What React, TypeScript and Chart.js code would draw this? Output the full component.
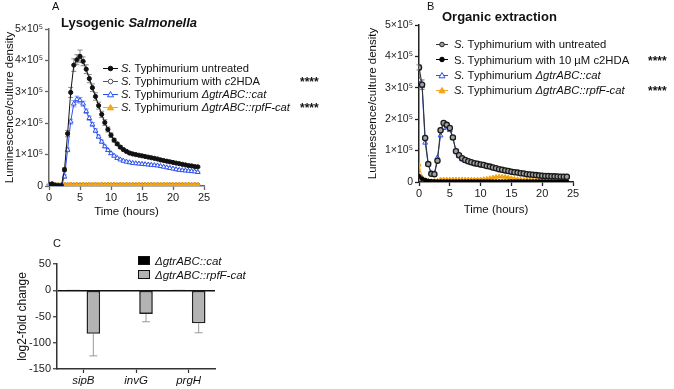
import React, { useEffect, useRef } from 'react';
import { Chart, registerables } from 'chart.js';

Chart.register(...registerables);

const FONT = "'Liberation Sans', Arial, Helvetica, sans-serif";

// Sampling times (hours)
const hours = [
  0, 0.5, 1, 1.5, 2, 2.5, 3, 3.5, 4, 4.5, 5, 5.5, 6, 6.5, 7, 7.5, 8, 8.5, 9, 9.5,
  10, 10.5, 11, 11.5, 12, 12.5, 13, 13.5, 14, 14.5, 15, 15.5, 16, 16.5, 17, 17.5,
  18, 18.5, 19, 19.5, 20, 20.5, 21, 21.5, 22, 22.5, 23, 23.5, 24,
];

// Panel A – lysogenic Salmonella (luminescence / culture density)
const lysoUntreated = [
  5000, 6000, 2000, 1000, 1000, 52000, 167000, 298000, 385000, 402000, 413000, 397000,
  372000, 342000, 313000, 285000, 256000, 228000, 202000, 180000, 162000, 146000, 134000,
  124000, 116000, 110000, 105000, 102000, 100000, 98000, 96000, 94000, 92000, 90000, 88000,
  86000, 83000, 81000, 79000, 77000, 75000, 73000, 71000, 69000, 67000, 65000, 64000,
  62000, 61000,
];
const lysoUntreatedSd = [
  1000, 1000, 500, 500, 500, 6000, 10000, 16000, 20000, 16000, 20000, 14000, 14000, 13000,
  12000, 12000, 11000, 10000, 9000, 8000, 7000, 6000, 5000, 5000, 4000, 4000, 4000, 3000,
  3000, 3000, 3000, 3000, 3000, 3000, 3000, 3000, 3000, 3000, 3000, 3000, 2000, 2000, 2000,
  2000, 2000, 2000, 2000, 2000, 2000,
];
const lysoC2hda = [
  6000, 7000, 4000, 3000, 3000, 3500, 3000, 3500, 3000, 3500, 3000, 3500, 3000, 3500, 3000,
  3500, 3000, 3500, 3000, 3500, 3000, 3500, 3000, 3500, 3000, 3500, 3000, 3500, 3000, 3500,
  3000, 3500, 3000, 3500, 3000, 3500, 3000, 3500, 3000, 3500, 3000, 3500, 3000, 3500, 3000,
  3500, 3000, 3500, 3000,
];
const lysoCat = [
  3000, 4000, 1000, 500, 500, 30000, 115000, 205000, 262000, 276000, 273000, 262000,
  238000, 216000, 196000, 176000, 157000, 141000, 126000, 114000, 104000, 96000, 89000,
  84000, 80000, 77000, 75000, 73000, 72000, 71000, 70000, 69000, 68000, 67000, 66000, 65000,
  63000, 61000, 59000, 57000, 55000, 53000, 51000, 50000, 49000, 48000, 47000, 46000, 44000,
];
const lysoCatSd = [
  500, 500, 300, 300, 300, 5000, 6000, 8000, 10000, 10000, 9000, 8000, 7000, 7000, 6000,
  6000, 5000, 5000, 4000, 4000, 3500, 3500, 3000, 3000, 3000, 2500, 2500, 2500, 2500, 2500,
  2500, 2500, 2500, 2500, 2500, 2500, 2500, 2500, 2500, 2500, 2500, 2500, 2500, 2500, 2500,
  2500, 2500, 2500, 2500,
];
const lysoRpfF = [
  2000, 2500, 2000, 3000, 3000, 4000, 4000, 4500, 4000, 4500, 4000, 4500, 4000, 4500, 4000,
  4500, 4000, 4500, 4000, 4500, 4000, 4500, 4000, 4500, 4000, 4500, 4000, 4500, 4000, 4500,
  4000, 4500, 4000, 4500, 4000, 4500, 4000, 4500, 4000, 4500, 4000, 4500, 4000, 4500, 4000,
  4500, 4000, 4500, 4000,
];

// Panel B – organic extraction
const orgUntreated = [
  365000, 310000, 140000, 57000, 26000, 25000, 68000, 165000, 188000, 182000, 172000,
  142000, 98000, 85000, 76000, 70000, 66000, 63000, 60000, 58000, 56000, 54000, 51000,
  49000, 46000, 44000, 41000, 39000, 37000, 35000, 33000, 31000, 30000, 28000, 27000, 25000,
  24000, 23000, 22000, 21000, 20000, 19500, 19000, 18500, 18000, 17500, 17000, 17000, 16500,
];
const orgUntreatedSd = [
  8000, 15000, 6000, 4000, 3000, 3000, 4000, 6000, 5000, 5000, 4000, 4000, 3000, 3000, 2000,
  2000, 2000, 2000, 2000, 2000, 2000, 2000, 2000, 2000, 2000, 2000, 2000, 2000, 2000, 2000,
  2000, 2000, 2000, 2000, 2000, 2000, 2000, 2000, 2000, 2000, 2000, 2000, 2000, 2000, 2000,
  2000, 2000, 2000, 2000,
];
const orgC2hda = [
  18000, 10000, 6000, 3000, 2000, 1500, 1000, 1000, 1000, 1000, 1000, 1000, 1000, 1000, 1000,
  1000, 1000, 1000, 1000, 1000, 1000, 1000, 1000, 1000, 1000, 1000, 1000, 1000, 1000, 1000,
  1000, 1000, 1000, 1000, 1000, 1000, 1000, 1000, 1000, 1000, 1000, 1000, 1000, 1000, 1000,
  1000, 1000, 1000, 1000,
];
const orgCat = [
  325000, 305000, 125000, 55000, 27000, 27000, 78000, 148000, 172000, 176000, 165000, 140000,
  100000, 82000, 72000, 67000, 63000, 60000, 57000, 55000, 53000, 51000, 49000, 47000, 44000,
  42000, 40000, 38000, 36000, 34000, 32000, 30000, 29000, 27000, 26000, 25000, 24000, 23000,
  22000, 21000, 20000, 19500, 19000, 18500, 18000, 17500, 17000, 17000, 17000,
];
const orgRpfF = [
  55000, 15000, 5000, 3000, 2000, 3000, 4000, 8000, 8000, 8000, 8000, 8000, 8000, 8000, 8000,
  8000, 8000, 8000, 8000, 8000, 8000, 9000, 10000, 12000, 14000, 16000, 17000, 17000, 16000,
  14000, 12000, 10000, 9000, 8000, 7000, 7000, 7000, 7000, 7000, 7000, 7000, 7000, 7000,
  7000, 7000, 7000, 7000, 7000, 7000,
];

const timeTicks = [0, 5, 10, 15, 20, 25];
const lumTicks = [0, 100000, 200000, 300000, 400000, 500000];

// Panel C – gene expression (log2-fold change)
const genes = ['sipB', 'invG', 'prgH'];
const foldCat = [1, -1, 1];
const foldRpfF = [-83, -45, -63];
const foldRpfFSd = [42, 15, 18];
const foldTicks = [-150, -100, -50, 0, 50];

const lumLabel = (v: number) => (v === 0 ? '0' : `${v / 100000}×10⁵`);

type Mark = { shape: 'circle' | 'triangle'; fill: string; stroke: string; line: string };

const mkUntreatedA: Mark = { shape: 'circle', fill: '#111', stroke: '#111', line: '#111' };
const mkOpenA: Mark = { shape: 'circle', fill: '#fff', stroke: '#555', line: '#555' };
const mkCat: Mark = { shape: 'triangle', fill: '#fff', stroke: '#2b50f0', line: '#2b50f0' };
const mkRpfF: Mark = { shape: 'triangle', fill: '#f5a623', stroke: '#f5a000', line: '#f5a623' };
const mkOpenB: Mark = { shape: 'circle', fill: '#a0a0a0', stroke: '#1a1a1a', line: '#333' };
const mkC2hdaB: Mark = { shape: 'circle', fill: '#000', stroke: '#000', line: '#000' };

// Draws SD whiskers for any dataset carrying an `errors` array
const errorBarPlugin = {
  id: 'errorBars',
  beforeDatasetsDraw(chart: any) {
    const ctx = chart.ctx;
    chart.data.datasets.forEach((ds: any, di: number) => {
      if (!ds.errors) return;
      const meta = chart.getDatasetMeta(di);
      const yScale = chart.scales[meta.yAxisID];
      ctx.save();
      ctx.strokeStyle = ds.errorColor || '#888';
      ctx.lineWidth = ds.errorWidth || 1;
      const cap = ds.errorCap ?? 2.5;
      meta.data.forEach((el: any, i: number) => {
        const e = ds.errors[i];
        if (!e) return;
        const raw = ds.data[i];
        const v = typeof raw === 'number' ? raw : raw.y;
        const ends = ds.errorOneSided ? [v < 0 ? v - e : v + e] : [v - e, v + e];
        const y0 = yScale.getPixelForValue(v);
        ctx.beginPath();
        ends.forEach((end: number) => {
          const y1 = yScale.getPixelForValue(end);
          ctx.moveTo(el.x, y0);
          ctx.lineTo(el.x, y1);
          ctx.moveTo(el.x - cap, y1);
          ctx.lineTo(el.x + cap, y1);
        });
        ctx.stroke();
      });
      ctx.restore();
    });
  },
};

function lineSeries(label: string, values: number[], mark: Mark, radius: number, order: number, extra: any = {}) {
  return {
    label,
    data: hours.map((h, i) => ({ x: h, y: values[i] })),
    borderColor: mark.line,
    backgroundColor: mark.fill,
    pointBorderColor: mark.stroke,
    pointBackgroundColor: mark.fill,
    pointStyle: mark.shape,
    pointRadius: radius,
    pointBorderWidth: 1,
    borderWidth: 1,
    fill: false,
    tension: 0,
    order,
    ...extra,
  };
}

function timeCourseOptions(cfg: {
  padLeft: number; padTop: number; padRight: number; yWidth: number; xHeight: number;
  yTitlePad: number; xTitlePad: number; axisColor: string;
}) {
  const tickFont = { family: FONT, size: 10.5 };
  const titleFont = { family: FONT, size: 11.5 };
  return {
    animation: false,
    responsive: false,
    events: [],
    layout: { padding: { left: cfg.padLeft, top: cfg.padTop, right: cfg.padRight, bottom: 0 } },
    plugins: { legend: { display: false }, tooltip: { enabled: false } },
    scales: {
      x: {
        type: 'linear',
        min: 0,
        max: 25,
        afterBuildTicks: (s: any) => { s.ticks = timeTicks.map((v) => ({ value: v })); },
        afterFit: (s: any) => { s.height = cfg.xHeight; },
        ticks: { font: { family: FONT, size: 11 }, color: '#222', padding: 1, maxRotation: 0 },
        grid: { display: true, drawOnChartArea: false, tickLength: 4, tickWidth: 1.3, tickColor: cfg.axisColor },
        border: { display: true, color: cfg.axisColor, width: 1.5 },
        title: { display: true, text: 'Time (hours)', font: titleFont, color: '#111', padding: { top: 0, bottom: cfg.xTitlePad } },
      },
      y: {
        type: 'linear',
        min: 0,
        max: 500000,
        afterBuildTicks: (s: any) => { s.ticks = lumTicks.map((v) => ({ value: v })); },
        afterFit: (s: any) => { s.width = cfg.yWidth; },
        ticks: { font: tickFont, color: '#222', padding: 2, callback: (v: any) => lumLabel(Number(v)) },
        grid: { display: true, drawOnChartArea: false, tickLength: 4, tickWidth: 1.3, tickColor: cfg.axisColor },
        border: { display: true, color: cfg.axisColor, width: 1.5 },
        title: { display: true, text: 'Luminescence/culture density', font: titleFont, color: '#111', padding: { top: cfg.yTitlePad, bottom: 0 } },
      },
    },
  };
}

function configA(): any {
  return {
    type: 'line',
    data: {
      datasets: [
        lineSeries('S. Typhimurium untreated', lysoUntreated, mkUntreatedA, 2.1, 1, { errors: lysoUntreatedSd, errorColor: '#8a8a8a' }),
        lineSeries('S. Typhimurium with c2HDA', lysoC2hda, mkOpenA, 2.1, 4),
        lineSeries('S. Typhimurium ΔgtrABC::cat', lysoCat, mkCat, 2.7, 2, { errors: lysoCatSd, errorColor: '#8aa0f5' }),
        lineSeries('S. Typhimurium ΔgtrABC::rpfF-cat', lysoRpfF, mkRpfF, 2.5, 3),
      ],
    },
    options: timeCourseOptions({ padLeft: 0, padTop: 29, padRight: 136, yWidth: 49, xHeight: 39, yTitlePad: 3, xTitlePad: 6, axisColor: '#666' }),
    plugins: [errorBarPlugin],
  };
}

function configB(): any {
  return {
    type: 'line',
    data: {
      datasets: [
        lineSeries('S. Typhimurium with untreated', orgUntreated, mkOpenB, 2.6, 1, { errors: orgUntreatedSd, errorColor: '#777', borderWidth: 1.1, pointBorderWidth: 1.3 }),
        lineSeries('S. Typhimurium with 10 µM c2HDA', orgC2hda, mkC2hdaB, 2, 3),
        lineSeries('S. Typhimurium ΔgtrABC::cat', orgCat, mkCat, 2.8, 2),
        lineSeries('S. Typhimurium ΔgtrABC::rpfF-cat', orgRpfF, mkRpfF, 2.5, 4),
      ],
    },
    options: timeCourseOptions({ padLeft: 26, padTop: 25, padRight: 101, yWidth: 53, xHeight: 43, yTitlePad: 0, xTitlePad: 8, axisColor: '#222' }),
    plugins: [errorBarPlugin],
  };
}

function configC(): any {
  return {
    type: 'bar',
    data: {
      labels: genes,
      datasets: [
        {
          label: 'ΔgtrABC::cat',
          data: foldCat,
          backgroundColor: '#000',
          borderColor: '#000',
          borderWidth: 1.5,
          borderSkipped: false,
          categoryPercentage: 0.76,
          barPercentage: 0.68,
        },
        {
          label: 'ΔgtrABC::rpfF-cat',
          data: foldRpfF,
          backgroundColor: '#b3b3b3',
          borderColor: '#222',
          borderWidth: 1.6,
          borderSkipped: false,
          categoryPercentage: 0.76,
          barPercentage: 0.68,
          errors: foldRpfFSd,
          errorOneSided: true,
          errorColor: '#9a9a9a',
          errorCap: 4,
        },
      ],
    },
    options: {
      animation: false,
      responsive: false,
      events: [],
      layout: { padding: { left: 0, top: 29, right: 125, bottom: 0 } },
      plugins: { legend: { display: false }, tooltip: { enabled: false } },
      scales: {
        x: {
          afterFit: (s: any) => { s.height = 20; },
          ticks: { font: { family: FONT, size: 11.5, style: 'italic' }, color: '#111', padding: 1 },
          grid: { display: true, drawOnChartArea: false, offset: false, tickLength: 4, tickWidth: 1.2, tickColor: '#333' },
          border: { display: true, color: '#333', width: 1.5 },
        },
        y: {
          min: -150,
          max: 50,
          afterBuildTicks: (s: any) => { s.ticks = foldTicks.map((v) => ({ value: v })); },
          afterFit: (s: any) => { s.width = 57; },
          ticks: { font: { family: FONT, size: 11 }, color: '#222', padding: 2 },
          grid: {
            display: true,
            drawOnChartArea: true,
            tickLength: 4,
            tickWidth: 1.2,
            lineWidth: 1.5,
            tickColor: '#333',
            color: (ctx: any) => (ctx.tick && ctx.tick.value === 0 ? '#111' : 'rgba(0,0,0,0)'),
          },
          border: { display: true, color: '#333', width: 1.5 },
          title: { display: true, text: 'log2-fold change', font: { family: FONT, size: 12 }, color: '#111', padding: { top: 15, bottom: 0 } },
        },
      },
    },
    plugins: [errorBarPlugin],
  };
}

type Seg = { t: string; i?: boolean };

const legendA: { mark: Mark; segs: Seg[]; stars: boolean }[] = [
  { mark: mkUntreatedA, segs: [{ t: 'S.', i: true }, { t: ' Typhimurium untreated' }], stars: false },
  { mark: mkOpenA, segs: [{ t: 'S.', i: true }, { t: ' Typhimurium with ' }, { t: 'c', i: true }, { t: '2HDA' }], stars: true },
  { mark: mkCat, segs: [{ t: 'S.', i: true }, { t: ' Typhimurium ' }, { t: 'ΔgtrABC::cat', i: true }], stars: false },
  { mark: mkRpfF, segs: [{ t: 'S.', i: true }, { t: ' Typhimurium ' }, { t: 'ΔgtrABC::rpfF-cat', i: true }], stars: true },
];
const legendARows = [68, 81, 94, 107];

const legendB: { mark: Mark; segs: Seg[]; stars: boolean }[] = [
  { mark: mkOpenB, segs: [{ t: 'S.', i: true }, { t: ' Typhimurium with untreated' }], stars: false },
  { mark: mkC2hdaB, segs: [{ t: 'S. Typhimurium with 10 µM c2HDA' }], stars: true },
  { mark: mkCat, segs: [{ t: 'S.', i: true }, { t: ' Typhimurium ' }, { t: 'ΔgtrABC::cat', i: true }], stars: false },
  { mark: mkRpfF, segs: [{ t: 'S.', i: true }, { t: ' Typhimurium ' }, { t: 'ΔgtrABC::rpfF-cat', i: true }], stars: true },
];
const legendBRows = [44, 59.5, 75, 90];

const legendC = [
  { label: 'ΔgtrABC::cat', fill: '#000' },
  { label: 'ΔgtrABC::rpfF-cat', fill: '#b3b3b3' },
];
const legendCRows = [260.5, 274.5];

function Marker({ mark, w }: { mark: Mark; w: number }) {
  const c = w / 2;
  return (
    <svg width={w} height={9} style={{ display: 'block' }}>
      <line x1={0} y1={4.5} x2={w} y2={4.5} stroke={mark.line} strokeWidth={1} />
      {mark.shape === 'circle' ? (
        <circle cx={c} cy={4.5} r={2.3} fill={mark.fill} stroke={mark.stroke} strokeWidth={1} />
      ) : (
        <polygon points={`${c},1.5 ${c + 3},6.8 ${c - 3},6.8`} fill={mark.fill} stroke={mark.stroke} strokeWidth={1} />
      )}
    </svg>
  );
}

function Text({ segs }: { segs: Seg[] }) {
  return (
    <>
      {segs.map((s, k) => (
        <span key={k} style={{ fontStyle: s.i ? 'italic' : 'normal' }}>{s.t}</span>
      ))}
    </>
  );
}

function abs(left: number, top: number, extra: React.CSSProperties = {}): React.CSSProperties {
  return { position: 'absolute', left, top, whiteSpace: 'nowrap', ...extra };
}

export default function App() {
  const aRef = useRef<HTMLCanvasElement>(null);
  const bRef = useRef<HTMLCanvasElement>(null);
  const cRef = useRef<HTMLCanvasElement>(null);

  useEffect(() => {
    const charts = [
      new Chart(aRef.current as HTMLCanvasElement, configA()),
      new Chart(bRef.current as HTMLCanvasElement, configB()),
      new Chart(cRef.current as HTMLCanvasElement, configC()),
    ];
    return () => charts.forEach((c) => c.destroy());
  }, []);

  const legendFont = 11.2;
  const lh = 14;

  return (
    <div style={{ position: 'absolute', left: 0, top: 0, width: 674, height: 389, background: '#fff', fontFamily: FONT, color: '#111', overflow: 'hidden' }}>
      <canvas ref={aRef} width={340} height={225} style={{ position: 'absolute', left: 0, top: 0 }} />
      <canvas ref={bRef} width={334} height={225} style={{ position: 'absolute', left: 340, top: 0 }} />
      <canvas ref={cRef} width={340} height={154} style={{ position: 'absolute', left: 0, top: 235 }} />

      {/* panel letters */}
      <div style={abs(52, -1, { fontSize: 11, lineHeight: '14px' })}>A</div>
      <div style={abs(427, -1, { fontSize: 11, lineHeight: '14px' })}>B</div>
      <div style={abs(53, 236, { fontSize: 11, lineHeight: '14px' })}>C</div>

      {/* panel titles */}
      <div style={abs(61, 14, { fontSize: 13, fontWeight: 'bold', lineHeight: '17px' })}>
        Lysogenic <span style={{ fontStyle: 'italic' }}>Salmonella</span>
      </div>
      <div style={abs(442, 8, { fontSize: 13, fontWeight: 'bold', lineHeight: '17px' })}>Organic extraction</div>

      {/* legend A */}
      {legendA.map((row, k) => (
        <React.Fragment key={`a${k}`}>
          <div style={abs(103, legendARows[k] - 4.5)}><Marker mark={row.mark} w={15} /></div>
          <div style={abs(121, legendARows[k] - lh / 2, { fontSize: legendFont, lineHeight: `${lh}px` })}><Text segs={row.segs} /></div>
          {row.stars && <div style={abs(300, legendARows[k] - lh / 2 + 1, { fontSize: 12, fontWeight: 'bold', lineHeight: `${lh}px` })}>****</div>}
        </React.Fragment>
      ))}

      {/* legend B */}
      {legendB.map((row, k) => (
        <React.Fragment key={`b${k}`}>
          <div style={abs(436, legendBRows[k] - 4.5)}><Marker mark={row.mark} w={12} /></div>
          <div style={abs(454, legendBRows[k] - lh / 2, { fontSize: 11.3, lineHeight: `${lh}px` })}><Text segs={row.segs} /></div>
          {row.stars && <div style={abs(648, legendBRows[k] - lh / 2 + 1, { fontSize: 12, fontWeight: 'bold', lineHeight: `${lh}px` })}>****</div>}
        </React.Fragment>
      ))}

      {/* legend C */}
      {legendC.map((row, k) => (
        <React.Fragment key={`c${k}`}>
          <div style={abs(137.5, legendCRows[k] - 5, { width: 10.5, height: 7.5, background: row.fill, border: '1.3px solid #111' })} />
          <div style={abs(155, legendCRows[k] - lh / 2, { fontSize: 11.5, fontStyle: 'italic', lineHeight: `${lh}px` })}>{row.label}</div>
        </React.Fragment>
      ))}
    </div>
  );
}
